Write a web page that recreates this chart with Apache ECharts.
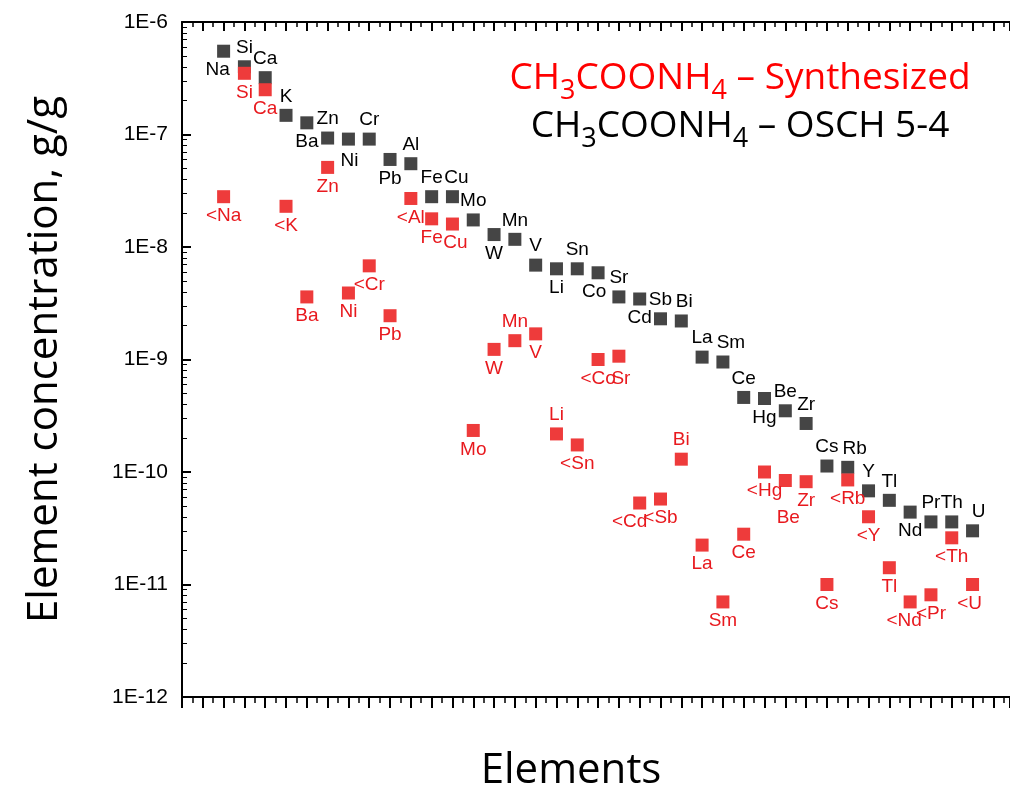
<!DOCTYPE html>
<html>
<head>
<meta charset="utf-8">
<script src="https://cdn.jsdelivr.net/npm/echarts@6/dist/echarts.min.js"></script>
<style>
html, body { margin: 0; padding: 0; background: #fff; }
#main { width: 1010px; height: 793px; }
</style>
</head>
<body>
<div id="main"></div>
<script>
// elements along the x axis, in plot order
var elements = ['Na','Si','Ca','K','Ba','Zn','Ni','Cr','Pb','Al','Fe','Cu','Mo','W','Mn','V','Li','Sn','Co','Sr',
                'Cd','Sb','Bi','La','Sm','Ce','Hg','Be','Zr','Cs','Rb','Y','Tl','Nd','Pr','Th','U'];

// CH3COONH4 - OSCH 5-4 (g/g)
var oschValues = [5.5e-7, 4.0e-7, 3.2e-7, 1.48e-7, 1.27e-7, 9.3e-8, 9.1e-8, 9.1e-8, 6.0e-8, 5.5e-8,
                  2.8e-8, 2.8e-8, 1.74e-8, 1.29e-8, 1.17e-8, 6.9e-9, 6.4e-9, 6.4e-9, 5.9e-9, 3.6e-9,
                  3.45e-9, 2.3e-9, 2.2e-9, 1.05e-9, 9.5e-10, 4.6e-10, 4.5e-10, 3.5e-10, 2.7e-10, 1.13e-10,
                  1.1e-10, 6.8e-11, 5.6e-11, 4.4e-11, 3.6e-11, 3.6e-11, 3.0e-11];

// CH3COONH4 - Synthesized (g/g), "<" marks detection limits
var synthValues = [2.8e-8, 3.5e-7, 2.5e-7, 2.3e-8, 3.6e-9, 5.1e-8, 3.9e-9, 6.8e-9, 2.45e-9, 2.7e-8,
                   1.78e-8, 1.6e-8, 2.34e-10, 1.23e-9, 1.47e-9, 1.69e-9, 2.18e-10, 1.74e-10, 1.0e-9, 1.07e-9,
                   5.3e-11, 5.75e-11, 1.3e-10, 2.24e-11, 7.0e-12, 2.8e-11, 1.0e-10, 8.4e-11, 8.2e-11, 1.0e-11,
                   8.5e-11, 4.0e-11, 1.41e-11, 7.0e-12, 8.1e-12, 2.6e-11, 1.0e-11];
var synthNames = ['<Na','Si','Ca','<K','Ba','Zn','Ni','<Cr','Pb','<Al','Fe','Cu','Mo','W','Mn','V','Li','<Sn','<Co','Sr',
                  '<Cd','<Sb','Bi','La','Sm','Ce','<Hg','Be','Zr','Cs','<Rb','<Y','Tl','<Nd','<Pr','<Th','<U'];

var yTickLabels = ['1E-12','1E-11','1E-10','1E-9','1E-8','1E-7','1E-6'];

// label placement: which labels sit under their square, plus small nudges
var oschBelow = { Na: 1, Ba: 1, Ni: 1, Pb: 1, W: 1, Li: 1, Co: 1, Cd: 1, Hg: 1, Nd: 1 };
var oschNudge = { Na: [-6, 0], Cu: [4, 0], Co: [-4, 0], Bi: [3, 0], Sm: [8, 0], Rb: [7, 0], U: [6, 0], Ni: [1, 3] };
var synthAbove = { Mn: 1, Li: 1, Bi: 1 };
var synthNudge = { '<Cd': [-10, 0], '<Nd': [-6, 0], '<U': [-3, 0], Cu: [3, 0], Be: [3, 18], Sr: [2, 4] };

var myChart = echarts.init(document.getElementById('main'));

function makeData(values, names, isTop, nudge) {
	var out = [];
	for (var i = 0; i < values.length; i++) {
		var n = names[i];
		out.push({
			name: n,
			value: [i + 2, values[i]],
			label: { position: isTop(elements[i]) ? 'top' : 'bottom', offset: nudge[n] || [0, 0] }
		});
	}
	return out;
}

var oschData = makeData(oschValues, elements, function (el) { return !oschBelow[el]; }, oschNudge);
var synthData = makeData(synthValues, synthNames, function (el) { return !!synthAbove[el]; }, synthNudge);

// the frame runs off the right edge of the picture, so the x range stops short of a whole step
var xBase = {
	type: 'value', min: 0, max: 39.8, interval: 1,
	axisLine: { show: true, onZero: false, lineStyle: { color: '#000', width: 2 } },
	axisLabel: { show: false },
	splitLine: { show: false }
};

var subRich = function (col) {
	return {
		m: { fontSize: 37, fontFamily: 'Open Sans', fill: col, lineHeight: 44, verticalAlign: 'top' },
		s: { fontSize: 27, fontFamily: 'Open Sans', fill: col, lineHeight: 28, padding: [18, 0, 0, 0], verticalAlign: 'top' }
	};
};

var option = {
	animation: false,
	backgroundColor: '#fff',
	grid: { left: 182, top: 22, right: 0, bottom: 96 },
	xAxis: [
		echarts.util.merge({
			position: 'bottom',
			axisTick: { show: true, inside: false, length: 11, lineStyle: { color: '#000', width: 2 } },
			minorTick: { show: true, splitNumber: 2, length: 6, lineStyle: { color: '#000', width: 1.5 } }
		}, xBase),
		echarts.util.merge({
			position: 'top',
			axisTick: { show: true, inside: true, length: 9, lineStyle: { color: '#000', width: 2 } },
			minorTick: { show: true, splitNumber: 2, length: 5, lineStyle: { color: '#000', width: 1.5 } }
		}, xBase)
	],
	yAxis: {
		type: 'log', logBase: 10, min: 1e-12, max: 1e-6,
		name: 'Element concentration, g/g',
		nameLocation: 'middle', nameGap: 116,
		nameTextStyle: { fontSize: 42, fontFamily: 'Open Sans', color: '#000' },
		axisLine: { show: true, lineStyle: { color: '#000', width: 2 } },
		axisTick: { show: true, inside: true, length: 9, lineStyle: { color: '#000', width: 2 } },
		minorTick: { show: true, splitNumber: 9, length: 5, lineStyle: { color: '#000', width: 1 } },
		axisLabel: {
			fontSize: 21, fontFamily: 'Liberation Sans', color: '#000', margin: 14,
			formatter: function (v) { return yTickLabels[Math.round(Math.log10(v)) + 12]; }
		},
		splitLine: { show: false }
	},
	graphic: [
		{ type: 'text', x: 571, y: 771,
		  style: { text: 'Elements', font: '42px "Open Sans"', fill: '#000', align: 'center', verticalAlign: 'middle' } },
		{ type: 'text', x: 740, y: 60,
		  style: { text: '{m|CH}{s|3}{m|COONH}{s|4}{m| \u2013 Synthesized}', rich: subRich('#ff0000'), align: 'center', verticalAlign: 'top' } },
		{ type: 'text', x: 740, y: 108,
		  style: { text: '{m|CH}{s|3}{m|COONH}{s|4}{m| \u2013 OSCH 5-4}', rich: subRich('#000'), align: 'center', verticalAlign: 'top' } }
	],
	series: [
		{
			name: 'CH3COONH4 - OSCH 5-4',
			type: 'scatter', symbol: 'rect', symbolSize: 13,
			itemStyle: { color: '#454545', opacity: 1 },
			label: { show: true, formatter: '{b}', distance: 3, fontSize: 19, fontFamily: 'Liberation Sans', color: '#000' },
			data: oschData
		},
		{
			name: 'CH3COONH4 - Synthesized',
			type: 'scatter', symbol: 'rect', symbolSize: 13,
			itemStyle: { color: '#ee3b3b', opacity: 1 },
			label: { show: true, formatter: '{b}', distance: 3, fontSize: 19, fontFamily: 'Liberation Sans', color: '#e8191e' },
			data: synthData
		}
	]
};

myChart.setOption(option);
</script>
</body>
</html>
